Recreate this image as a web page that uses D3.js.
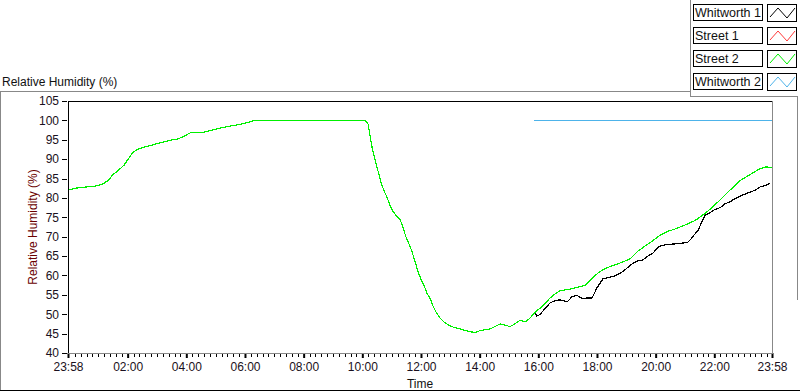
<!DOCTYPE html>
<html><head><meta charset="utf-8">
<script src="https://cdn.jsdelivr.net/npm/d3@7"></script>
<style>
html,body{margin:0;padding:0;background:#fff;}
svg{display:block;font-family:"Liberation Sans",Arial,sans-serif;}
</style></head>
<body><svg id="c" width="800" height="392"></svg>
<script>
// Data: times in minutes from midnight (23:58 previous day = -2)
const seriesNames = ["Whitworth 1", "Street 1", "Street 2", "Whitworth 2"];
const seriesColors = ["#000000", "#ff3a3a", "#00f000", "#4db3ea"];

const street2Time = [-2,12,33,53,68,80,90,100,113,121,129,139,151,166,180,196,211,223,237,248,264,278,293,309,329,350,366,381,606,612,616,620,626,632,638,644,651,657,663,669,677,683,689,696,702,708,714,720,726,732,739,745,751,759,769,779,790,800,810,820,831,841,851,861,871,882,892,902,912,923,933,943,953,964,974,984,994,1004,1025,1045,1056,1066,1076,1086,1097,1107,1127,1148,1162,1177,1188,1208,1223,1240,1260,1281,1301,1315,1332,1352,1373,1393,1413,1426,1438];
const street2Value = [82.0,82.5,82.8,83.0,83.5,84.5,86,87,88.5,90,91.5,92.5,93,93.5,94,94.5,95,95.2,96,96.8,96.8,97,97.5,98,98.5,99,99.5,100,100,99,96,93,90,87,84,82,80,78,76.5,75.5,74.5,72.5,70,68,66,63.5,61,59,57.5,55.5,54,52,50.5,49,47.8,47,46.5,46.2,45.8,45.5,45.3,45.8,46,46.2,46.8,47.5,47.2,46.8,47.5,48.5,48,49,50.5,51.6,52.8,54.2,55.2,56,56.5,57.1,57.5,58.8,60,61,61.8,62.3,63.2,64.3,66.1,67.5,68.4,70.3,71.3,72,73,74.2,76,77.5,79.5,82,84.5,86,87.5,88,87.8];

const whitworth1Time = [953,957,964,974,984,994,1004,1019,1029,1039,1050,1060,1070,1080,1092,1103,1113,1123,1133,1144,1154,1164,1174,1184,1195,1203,1209,1223,1236,1250,1265,1271,1279,1287,1295,1301,1311,1321,1332,1342,1352,1362,1373,1383,1393,1404,1413,1424,1434];
const whitworth1Value = [50.7,49.5,50,51.5,52.9,53.5,53.7,53.2,54.5,54.9,54,54.2,54.2,56.8,59.1,59.5,59.7,60.3,61,62.2,63.2,63.8,64,65,65.8,67,67.6,68,68.1,68.3,68.5,69.2,70.5,71.7,74,75.5,76.2,77,77.5,78.5,79,79.8,80.5,81,81.5,82,82.8,83.2,83.8];

const whitworth2Time = [951, 1438];
const whitworth2Value = [100, 100];

const street1Time = [];
const street1Value = [];

const yTicks = [40,45,50,55,60,65,70,75,80,85,90,95,100,105];
const xTickTimes = [-2,120,240,360,480,600,720,840,960,1080,1200,1320,1438];
const xTickLabels = ["23:58","02:00","04:00","06:00","08:00","10:00","12:00","14:00","16:00","18:00","20:00","22:00","23:58"];

const FONT = "Liberation Sans, Arial, sans-serif";
const svg = d3.select("#c");
const L = 68, R = 772, T = 101, B = 353;
const x = d3.scaleLinear().domain([-2, 1438]).range([L, R]);
const y = d3.scaleLinear().domain([40, 105]).range([B, T]);

// outer panel lines
const g0 = svg.append("g").attr("shape-rendering","crispEdges");
g0.append("line").attr("x1",0).attr("x2",690).attr("y1",91.5).attr("y2",91.5).attr("stroke","#888");
g0.append("line").attr("x1",690.5).attr("x2",690.5).attr("y1",0).attr("y2",96).attr("stroke","#888");
g0.append("line").attr("x1",690).attr("x2",798).attr("y1",96.5).attr("y2",96.5).attr("stroke","#888");
g0.append("line").attr("x1",797.5).attr("x2",797.5).attr("y1",96).attr("y2",300).attr("stroke","#888");
g0.append("line").attr("x1",0.5).attr("x2",0.5).attr("y1",92).attr("y2",390).attr("stroke","#888");
g0.append("line").attr("x1",0).attr("x2",800).attr("y1",390.5).attr("y2",390.5).attr("stroke","#000");

// Title
svg.append("text").attr("x",2).attr("y",86).attr("font-size",12).attr("fill","#111").text("Relative Humidity (%)");

// Legend
const leg = svg.append("g");
seriesNames.forEach((n,i)=>{
  const yy = 4 + i*23;
  leg.append("rect").attr("x",693.5).attr("y",yy+0.5).attr("width",69).attr("height",16).attr("fill","#fff").attr("stroke","#000").attr("shape-rendering","crispEdges");
  leg.append("text").attr("x",695).attr("y",yy+13).attr("font-size",12.5).attr("fill","#111").text(n);
  leg.append("rect").attr("x",767.5).attr("y",yy+0.5).attr("width",29).attr("height",17).attr("fill","#fff").attr("stroke","#000").attr("shape-rendering","crispEdges");
  const zz = [[770,yy+13],[778,yy+4],[787,yy+14],[795,yy+4]];
  leg.append("path").attr("d",d3.line()(zz)).attr("fill","none").attr("stroke",seriesColors[i]).attr("stroke-width",1);
});

// plot background
svg.append("rect").attr("x",L).attr("y",T).attr("width",R-L).attr("height",B-T).attr("fill","#fff");

// y axis
const yAxis = d3.axisLeft(y).tickValues(yTicks).tickSize(5).tickPadding(3);
const ya = svg.append("g").attr("transform",`translate(${L-1},0)`).call(yAxis);
ya.select(".domain").remove();
ya.selectAll("line").attr("stroke","#000").attr("shape-rendering","crispEdges");
ya.selectAll("text").attr("font-size",12).attr("fill","#1a1020").attr("font-family",FONT);

// x axis majors
const xAxis = d3.axisBottom(x).tickValues(xTickTimes).tickFormat((d,i)=>xTickLabels[i]).tickSize(5).tickPadding(4);
const xa = svg.append("g").attr("transform",`translate(0,${B})`).call(xAxis);
xa.select(".domain").remove();
xa.selectAll("line").attr("stroke","#000").attr("stroke-width",2);
xa.selectAll("text").attr("font-size",12).attr("fill","#1a1020").attr("font-family",FONT);
// minor ticks every 12 min
const minor = d3.range(12, 1438, 12).filter(m => m % 120 !== 0);
svg.append("g").selectAll("line").data(minor).join("line")
  .attr("x1",d=>Math.round(x(d))+0.5).attr("x2",d=>Math.round(x(d))+0.5)
  .attr("y1",B+1).attr("y2",B+4).attr("stroke","#000").attr("shape-rendering","crispEdges");

// axis titles
svg.append("text").attr("transform",`translate(37,${(T+B)/2}) rotate(-90)`).attr("text-anchor","middle")
  .attr("font-size",12).attr("fill","#6a0000").text("Relative Humidity (%)");
svg.append("text").attr("x",(L+R)/2).attr("y",388).attr("text-anchor","middle")
  .attr("font-size",12).attr("fill","#111").text("Time");

// series
svg.append("clipPath").attr("id","pc").append("rect").attr("x",L).attr("y",T).attr("width",R-L).attr("height",B-T);
const line = d3.line().x(d=>x(d[0])).y(d=>y(d[1]));
const plots = svg.append("g").attr("clip-path","url(#pc)");
const series = [
  [whitworth1Time, whitworth1Value, 0],
  [street1Time, street1Value, 1],
  [whitworth2Time, whitworth2Value, 3],
  [street2Time, street2Value, 2]
];
series.forEach(([t,v,ci])=>{
  if(!t.length) return;
  const pts = t.map((d,i)=>[d,v[i]]);
  plots.append("path").attr("d",line(pts)).attr("fill","none").attr("stroke",seriesColors[ci])
    .attr("stroke-width",1.2).attr("shape-rendering","crispEdges");
});

// frame: black top/left, gray right/bottom
const fr = svg.append("g").attr("shape-rendering","crispEdges");
fr.append("line").attr("x1",L).attr("x2",R).attr("y1",T+0.5).attr("y2",T+0.5).attr("stroke","#000").attr("stroke-width",1.5);
fr.append("line").attr("x1",L+0.5).attr("x2",L+0.5).attr("y1",T).attr("y2",B+1).attr("stroke","#000").attr("stroke-width",1.5);
fr.append("line").attr("x1",R+0.5).attr("x2",R+0.5).attr("y1",T).attr("y2",B+1).attr("stroke","#888");
fr.append("line").attr("x1",L).attr("x2",R+1).attr("y1",B+0.5).attr("y2",B+0.5).attr("stroke","#888");
</script></body></html>
